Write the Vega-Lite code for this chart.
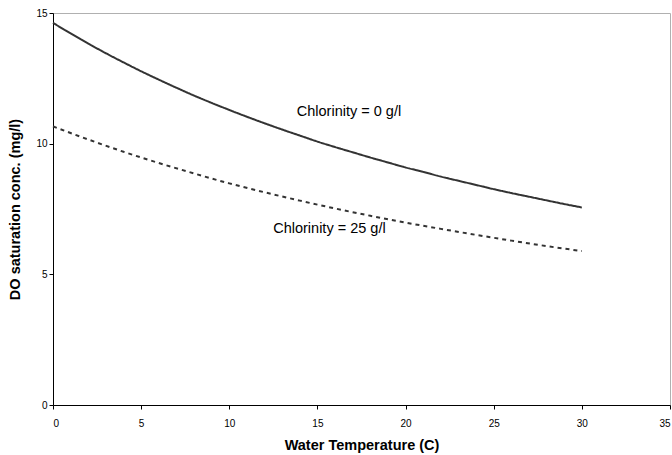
{
  "$schema": "https://vega.github.io/schema/vega-lite/v6.json",
  "width": 617,
  "height": 392,
  "autosize": {"type": "none"},
  "padding": {"left": 53, "top": 13, "right": 2, "bottom": 50},
  "background": "white",
  "config": {
    "font": "Liberation Sans",
    "view": {"stroke": "#b0b0b0", "strokeWidth": 1},
    "axis": {
      "labelFont": "Liberation Sans",
      "titleFont": "Liberation Sans",
      "labelFontSize": 10,
      "labelColor": "#000",
      "titleFontSize": 14.5,
      "titleFontWeight": "bold",
      "titleColor": "#000",
      "domainColor": "#000",
      "tickColor": "#000",
      "tickSize": 4,
      "grid": false
    }
  },
  "datasets": {
    "curves": [
      {"t": 0, "do": 14.62, "series": "0 g/l"},
      {"t": 1, "do": 14.22, "series": "0 g/l"},
      {"t": 2, "do": 13.83, "series": "0 g/l"},
      {"t": 3, "do": 13.46, "series": "0 g/l"},
      {"t": 4, "do": 13.11, "series": "0 g/l"},
      {"t": 5, "do": 12.77, "series": "0 g/l"},
      {"t": 6, "do": 12.45, "series": "0 g/l"},
      {"t": 7, "do": 12.14, "series": "0 g/l"},
      {"t": 8, "do": 11.84, "series": "0 g/l"},
      {"t": 9, "do": 11.56, "series": "0 g/l"},
      {"t": 10, "do": 11.29, "series": "0 g/l"},
      {"t": 11, "do": 11.03, "series": "0 g/l"},
      {"t": 12, "do": 10.78, "series": "0 g/l"},
      {"t": 13, "do": 10.54, "series": "0 g/l"},
      {"t": 14, "do": 10.31, "series": "0 g/l"},
      {"t": 15, "do": 10.08, "series": "0 g/l"},
      {"t": 16, "do": 9.87, "series": "0 g/l"},
      {"t": 17, "do": 9.67, "series": "0 g/l"},
      {"t": 18, "do": 9.47, "series": "0 g/l"},
      {"t": 19, "do": 9.28, "series": "0 g/l"},
      {"t": 20, "do": 9.09, "series": "0 g/l"},
      {"t": 21, "do": 8.92, "series": "0 g/l"},
      {"t": 22, "do": 8.74, "series": "0 g/l"},
      {"t": 23, "do": 8.58, "series": "0 g/l"},
      {"t": 24, "do": 8.42, "series": "0 g/l"},
      {"t": 25, "do": 8.26, "series": "0 g/l"},
      {"t": 26, "do": 8.11, "series": "0 g/l"},
      {"t": 27, "do": 7.97, "series": "0 g/l"},
      {"t": 28, "do": 7.83, "series": "0 g/l"},
      {"t": 29, "do": 7.69, "series": "0 g/l"},
      {"t": 30, "do": 7.56, "series": "0 g/l"},
      {"t": 0, "do": 10.66, "series": "25 g/l"},
      {"t": 2, "do": 10.16, "series": "25 g/l"},
      {"t": 4, "do": 9.69, "series": "25 g/l"},
      {"t": 6, "do": 9.26, "series": "25 g/l"},
      {"t": 8, "do": 8.86, "series": "25 g/l"},
      {"t": 10, "do": 8.48, "series": "25 g/l"},
      {"t": 12, "do": 8.14, "series": "25 g/l"},
      {"t": 14, "do": 7.82, "series": "25 g/l"},
      {"t": 16, "do": 7.52, "series": "25 g/l"},
      {"t": 18, "do": 7.24, "series": "25 g/l"},
      {"t": 20, "do": 6.98, "series": "25 g/l"},
      {"t": 22, "do": 6.74, "series": "25 g/l"},
      {"t": 24, "do": 6.51, "series": "25 g/l"},
      {"t": 26, "do": 6.29, "series": "25 g/l"},
      {"t": 28, "do": 6.08, "series": "25 g/l"},
      {"t": 30, "do": 5.89, "series": "25 g/l"}
    ],
    "labels": [
      {"t": 16.79, "do": 11.21, "text": "Chlorinity = 0 g/l"},
      {"t": 15.68, "do": 6.74, "text": "Chlorinity = 25 g/l"}
    ]
  },
  "layer": [
    {
      "data": {"name": "curves"},
      "mark": {"type": "line", "interpolate": "monotone", "strokeWidth": 2, "color": "#333333"},
      "encoding": {
        "x": {"field": "t", "type": "quantitative", "scale": {"domain": [0, 35], "nice": false}, "axis": {"values": [0, 5, 10, 15, 20, 25, 30, 35], "title": "Water Temperature (C)", "labelPadding": 9, "titlePadding": 10}},
        "y": {"field": "do", "type": "quantitative", "scale": {"domain": [0, 15], "nice": false}, "axis": {"values": [0, 5, 10, 15], "title": "DO saturation conc. (mg/l)", "titlePadding": 13}},
        "detail": {"field": "series"},
        "strokeDash": {"field": "series", "type": "nominal", "scale": {"domain": ["0 g/l", "25 g/l"], "range": [[1, 0], [4, 4]]}, "legend": null}
      }
    },
    {
      "data": {"name": "labels"},
      "mark": {"type": "text", "font": "Liberation Sans", "fontSize": 14.5, "color": "#000"},
      "encoding": {
        "x": {"field": "t", "type": "quantitative"},
        "y": {"field": "do", "type": "quantitative"},
        "text": {"field": "text"}
      }
    }
  ]
}
